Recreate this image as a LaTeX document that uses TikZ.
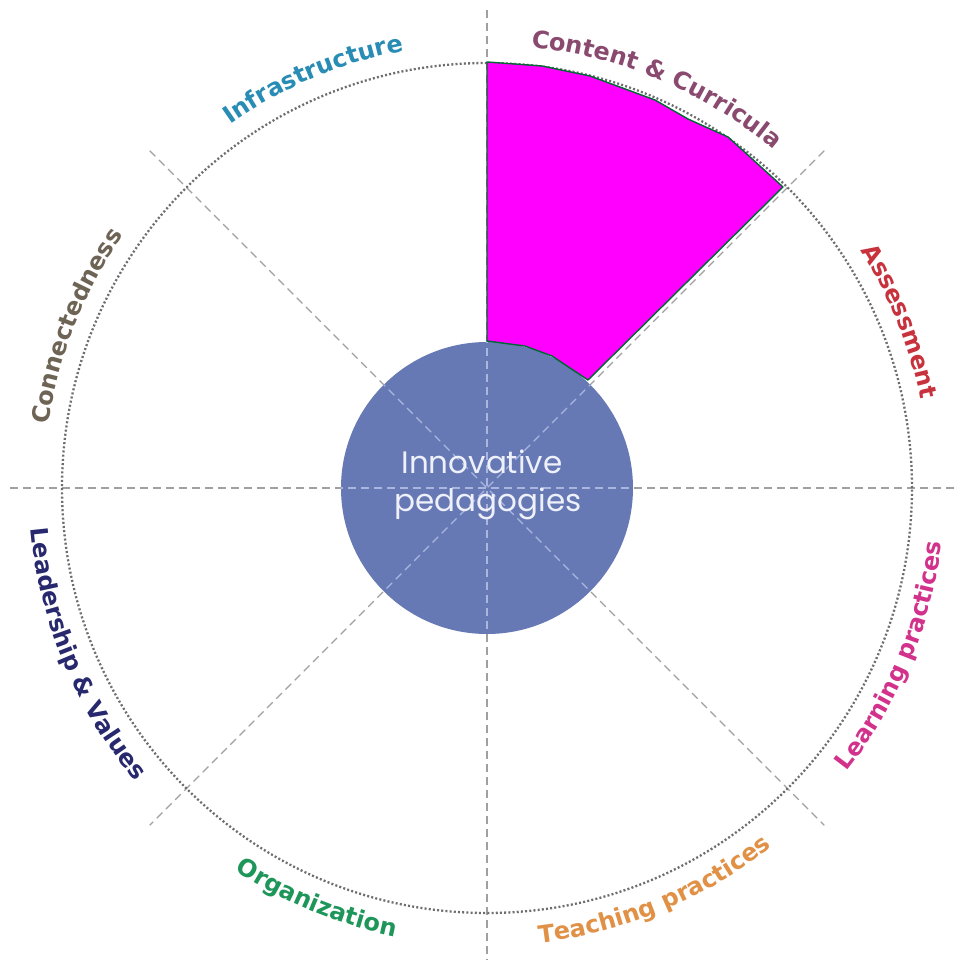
\documentclass[tikz,border=0pt]{standalone}
\usepackage{fontspec}
\newfontfamily\labfont{DejaVu Sans}
\newfontfamily\ctrfont{Poppins}
\usetikzlibrary{decorations.text}
\definecolor{ccurr}{RGB}{138,74,112}
\definecolor{cinfra}{RGB}{40,140,180}
\definecolor{cconn}{RGB}{110,100,85}
\definecolor{cassess}{RGB}{200,50,60}
\definecolor{clead}{RGB}{40,40,110}
\definecolor{clearn}{RGB}{210,50,140}
\definecolor{corg}{RGB}{30,150,90}
\definecolor{cteach}{RGB}{225,145,70}
\definecolor{guidegray}{RGB}{160,160,160}
\definecolor{dotgray}{RGB}{110,110,110}
\definecolor{hubblue}{RGB}{102,121,181}
\definecolor{hubline}{RGB}{170,182,222}
\definecolor{hubtext}{RGB}{238,240,250}
\definecolor{wedgefill}{RGB}{255,0,255}
\definecolor{wedgeedge}{RGB}{0,102,51}
\newcommand\lbfmt{\labfont\bfseries\fontsize{24}{24}\selectfont}
\begin{document}
\begin{tikzpicture}[x=1pt,y=1pt,
  guide/.style={draw=guidegray, line width=1.1pt, dash pattern=on 8pt off 5pt},
  hubguide/.style={draw=hubline, line width=1.1pt, dash pattern=on 8pt off 5pt},
  ring/.style={draw=dotgray, line width=2.3pt, dash pattern=on 2pt off 2.2pt},
  hub/.style={fill=hubblue},
  wedge/.style={fill=wedgefill, draw=wedgeedge, line width=1.4pt, line join=round},
  hubtxt/.style={text=hubtext, font=\ctrfont\fontsize{31}{36}\selectfont, inner sep=0pt, anchor=base}]
\useasboundingbox[fill=white] (-487,-476) rectangle (472,488);
% guide lines
\coordinate (O) at (0,0);
\coordinate (gL) at (-477,0);
\coordinate (gR) at (468,0);
\coordinate (gT) at (0,478);
\coordinate (gB) at (0,-472);
\coordinate (gTL) at (135:477);
\coordinate (gBR) at (-45:477);
\coordinate (gTR) at (45:477);
\coordinate (gBL) at (225:477);
\draw[guide] (gL) -- (gR);
\draw[guide] (gT) -- (gB);
\draw[guide] (gTL) -- (gBR);
\draw[guide] (gTR) -- (gBL);
% hub
\fill[hub] (O) circle[radius=146];
\begin{scope}
\clip (O) circle[radius=146];
\draw[hubguide] (gL) -- (gR);
\draw[hubguide] (gT) -- (gB);
\draw[hubguide] (gTL) -- (gBR);
\draw[hubguide] (gTR) -- (gBL);
\end{scope}
% dotted ring
\draw[ring] (O) circle[radius=425];
% highlighted wedge
\draw[wedge] (0,426) -- (55,422) -- (103,412) -- (168,388) -- (201,369) -- (241,351) -- (296,301)
  -- (101,108) -- (65,132) -- (38,142) -- (0,147) -- cycle;
% labels (upper half, clockwise)
\path[decorate, decoration={text along path, text align=center,
  text={|\lbfmt\color{ccurr}|Content {\&} Curricula}}]
  (107:443) arc[start angle=107, end angle=27, radius=443];
\path[decorate, decoration={text along path, text align=center,
  text={|\lbfmt\color{cinfra}|Infrastructure}}]
  (153:445) arc[start angle=153, end angle=73, radius=445];
\path[decorate, decoration={text along path, text align=center,
  text={|\lbfmt\color{cconn}|Connectedness}}]
  (198.5:443) arc[start angle=198.5, end angle=118.5, radius=443];
\path[decorate, decoration={text along path, text align=center,
  text={|\lbfmt\color{cassess}|Assessment}}]
  (62:443) arc[start angle=62, end angle=-18, radius=443];
% labels (lower half, counter-clockwise)
\path[decorate, decoration={text along path, text align=center,
  text={|\lbfmt\color{clead}|Leadership {\&} Values}}]
  (162.5:458) arc[start angle=162.5, end angle=242.5, radius=458];
\path[decorate, decoration={text along path, text align=center,
  text={|\lbfmt\color{corg}|Organization}}]
  (207.5:458) arc[start angle=207.5, end angle=287.5, radius=458];
\path[decorate, decoration={text along path, text align=center,
  text={|\lbfmt\color{cteach}|Teaching practices}}]
  (252.5:458) arc[start angle=252.5, end angle=332.5, radius=458];
\path[decorate, decoration={text along path, text align=center,
  text={|\lbfmt\color{clearn}|Learning practices}}]
  (297.5:458) arc[start angle=297.5, end angle=377.5, radius=458];
% hub text
\node[hubtxt] (hub1) at (-5,15) {Innovative};
\node[hubtxt] (hub2) at (1,-23) {pedagogies};
\end{tikzpicture}
\end{document}
